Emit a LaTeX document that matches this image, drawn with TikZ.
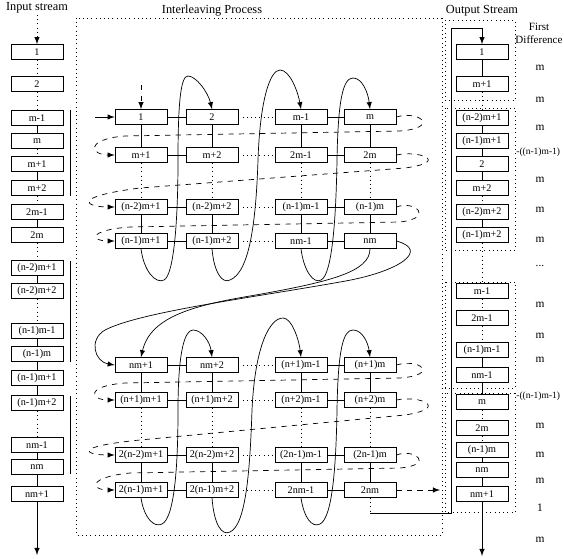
\documentclass[tikz,border=0pt]{standalone}
\usepackage{fontspec}
\setmainfont{Liberation Serif}
\usepackage{tikz}
\usetikzlibrary{arrows,positioning,calc}

\tikzset{
  cell/.style={draw, thin, minimum width=1.04cm, minimum height=0.3cm, inner sep=0pt, font=\fontsize{5.8}{7}\selectfont},
  head/.style={font=\fontsize{7}{8}\selectfont},
  diffl/.style={font=\fontsize{6.5}{7}\selectfont},
  retloop/.style={thin, dashed, ->},
  bigloop/.style={thin, ->},
}

\begin{document}
\begin{tikzpicture}[x=0.02cm, y=-0.02cm, >=latex]
    \useasboundingbox (0,0) rectangle (564,558);

    % headers
    \node[head] (hin) at (37,8) {Input stream};
    \node[head] (hmid) at (212,11) {Interleaving Process};
    \node[head] (hout) at (482,11) {Output Stream};
    \node[head, font=\fontsize{6.3}{7.5}\selectfont, align=center] (hdiff) at (539,33) {First\\Difference};
    \draw[dotted] (76,18) rectangle (442,535);

    % input stream
    \node[cell] (in1) at (37,52) {1};
    \node[cell] (in2) at (37,84) {2};
    \node[cell] (in3) at (37,118) {m-1};
    \node[cell] (in4) at (37,141) {m};
    \node[cell] (in5) at (37,164) {m+1};
    \node[cell] (in6) at (37,188) {m+2};
    \node[cell] (in7) at (37,212) {2m-1};
    \node[cell] (in8) at (37,235) {2m};
    \node[cell] (in9) at (37,268) {(n-2)m+1};
    \node[cell] (in10) at (37,291) {(n-2)m+2};
    \node[cell] (in11) at (37,331) {(n-1)m-1};
    \node[cell] (in12) at (37,354) {(n-1)m};
    \node[cell] (in13) at (37,378) {(n-1)m+1};
    \node[cell] (in14) at (37,403) {(n-1)m+2};
    \node[cell] (in15) at (37,445) {nm-1};
    \node[cell] (in16) at (37,467) {nm};
    \node[cell] (in17) at (37,494) {nm+1};
    \coordinate (inTop) at (37,15);
    \coordinate (inEnd) at (37,555);
    \draw[dotted, ->] (inTop) -- (in1);
    \draw[dotted] (in1) -- (in2);
    \draw[dotted] (in2) -- (in3);
    \draw (in3) -- (in4);
    \draw[dotted] (in4) -- (in5);
    \draw (in5) -- (in6);
    \draw[dotted] (in6) -- (in7);
    \draw (in7) -- (in8);
    \draw[dotted] (in8) -- (in9);
    \draw (in9) -- (in10);
    \draw[dotted] (in10) -- (in11);
    \draw (in11) -- (in12);
    \draw (in12) -- (in13);
    \draw (in13) -- (in14);
    \draw[dotted] (in14) -- (in15);
    \draw (in15) -- (in16);
    \draw (in16) -- (in17);
    \draw[->] (in17) -- (inEnd);
    \draw (70,110) -- (70,196);
    \draw (70,261) -- (70,362);
    \draw (70,396) -- (70,474);

    % interleaving process, first block
    \node[cell] (g11) at (141,117) {1};
    \node[cell] (g12) at (212,117) {2};
    \node[cell] (g13) at (301,117) {m-1};
    \node[cell] (g14) at (370,117) {m};
    \node[cell] (g21) at (141,155) {m+1};
    \node[cell] (g22) at (212,155) {m+2};
    \node[cell] (g23) at (301,155) {2m-1};
    \node[cell] (g24) at (370,155) {2m};
    \node[cell] (g31) at (141,207) {(n-2)m+1};
    \node[cell] (g32) at (212,207) {(n-2)m+2};
    \node[cell] (g33) at (301,207) {(n-1)m-1};
    \node[cell] (g34) at (370,207) {(n-1)m};
    \node[cell] (g41) at (141,241) {(n-1)m+1};
    \node[cell] (g42) at (212,241) {(n-1)m+2};
    \node[cell] (g43) at (301,241) {nm-1};
    \node[cell] (g44) at (370,241) {nm};

    % interleaving process, second block
    \node[cell] (h11) at (141,365) {nm+1};
    \node[cell] (h12) at (212,365) {nm+2};
    \node[cell] (h13) at (301,365) {(n+1)m-1};
    \node[cell] (h14) at (370,365) {(n+1)m};
    \node[cell] (h21) at (141,400) {(n+1)m+1};
    \node[cell] (h22) at (212,400) {(n+1)m+2};
    \node[cell] (h23) at (301,400) {(n+2)m-1};
    \node[cell] (h24) at (370,400) {(n+2)m};
    \node[cell] (h31) at (141,455) {2(n-2)m+1};
    \node[cell] (h32) at (212,455) {2(n-2)m+2};
    \node[cell] (h33) at (301,455) {(2n-1)m-1};
    \node[cell] (h34) at (370,455) {(2n-1)m};
    \node[cell] (h41) at (141,490) {2(n-1)m+1};
    \node[cell] (h42) at (212,490) {2(n-1)m+2};
    \node[cell] (h43) at (301,490) {2nm-1};
    \node[cell] (h44) at (370,490) {2nm};

    \foreach \gr in {g,h} {
        \foreach \c in {1,...,4} {
            \draw (\gr1\c) -- (\gr2\c);
            \draw[dotted] (\gr2\c) -- (\gr3\c);
            \draw (\gr3\c) -- (\gr4\c);
        }
        \foreach \r in {1,...,4} {
            \draw (\gr\r1) -- (\gr\r2);
            \draw[dotted] (\gr\r2) -- (\gr\r3);
            \draw (\gr\r3) -- (\gr\r4);
        }
    }

    % feeding the first block
    \coordinate (feedT) at (141,85);
    \coordinate (feedL) at (95,117);
    \draw[dashed, ->] (feedT) -- (g11);
    \draw[->] (feedL) -- (g11);

    % column to column loops
    \draw[bigloop] (g41.south) .. controls (144,272) and (156,284) .. (164,280) .. controls (174,275) and (178,220) .. (178,160) .. controls (178,100) and (181,76) .. (188,76) .. controls (196,76) and (208,92) .. (g12.north);
    \draw[bigloop] (g42.south) .. controls (214,272) and (222,284) .. (230,280) .. controls (250,272) and (256,220) .. (258,160) .. controls (260,100) and (270,70) .. (280,70) .. controls (290,70) and (298,92) .. (g13.north);
    \draw[bigloop] (g43.south) .. controls (304,272) and (314,284) .. (321,280) .. controls (332,275) and (336,220) .. (337,160) .. controls (338,100) and (343,78) .. (353,78) .. controls (362,78) and (368,92) .. (g14.north);
    \draw[bigloop] (h41.south) .. controls (144,518) and (154,528) .. (162,524) .. controls (174,518) and (178,470) .. (178,410) .. controls (178,350) and (185,330) .. (193,330) .. controls (202,330) and (210,342) .. (h12.north);
    \draw[bigloop] (h42.south) .. controls (214,525) and (222,536) .. (230,532) .. controls (246,525) and (250,470) .. (252,410) .. controls (255,345) and (270,318) .. (283,318) .. controls (292,318) and (299,340) .. (h13.north);
    \draw[bigloop] (h43.south) .. controls (304,518) and (312,528) .. (320,524) .. controls (332,518) and (336,470) .. (337,410) .. controls (338,350) and (343,330) .. (353,330) .. controls (362,330) and (368,342) .. (h14.north);

    % row to row loops
    \draw[retloop] (g14.east) .. controls (420,110) and (440,128) .. (400,131) -- (125,136) .. controls (85,139) and (90,155) .. (g21.west);
    \draw[retloop] (g24.east) .. controls (420,150) and (450,162) .. (405,168) -- (140,188) .. controls (70,197) and (85,207) .. (g31.west);
    \draw[retloop] (g34.east) .. controls (415,200) and (435,218) .. (400,222) -- (130,227) .. controls (88,230) and (90,241) .. (g41.west);
    \draw[retloop] (h14.east) .. controls (420,358) and (440,375) .. (400,378) -- (125,383) .. controls (85,386) and (90,400) .. (h21.west);
    \draw[retloop] (h24.east) .. controls (420,395) and (450,408) .. (405,415) -- (140,440) .. controls (70,447) and (85,455) .. (h31.west);
    \draw[retloop] (h34.east) .. controls (415,448) and (435,465) .. (400,468) -- (130,473) .. controls (88,477) and (90,490) .. (h41.west);

    % from first block to second block
    \draw[bigloop] (g44.east) .. controls (430,250) and (400,272) .. (340,282) .. controls (250,298) and (140,312) .. (105,330) .. controls (88,340) and (95,362) .. (h11.west);
    \draw[bigloop] (g44.south) .. controls (370,272) and (330,282) .. (250,296) .. controls (190,306) and (150,318) .. (h11.north);

    % output stream
    \node[cell] (out1) at (482,52) {1};
    \node[cell] (out2) at (482,84) {m+1};
    \node[cell] (out3) at (482,118) {(n-2)m+1};
    \node[cell] (out4) at (482,141) {(n-1)m+1};
    \node[cell] (out5) at (482,164) {2};
    \node[cell] (out6) at (482,188) {m+2};
    \node[cell] (out7) at (482,212) {(n-2)m+2};
    \node[cell] (out8) at (482,235) {(n-1)m+2};
    \node[cell] (out9) at (482,291) {m-1};
    \node[cell] (out10) at (482,318) {2m-1};
    \node[cell] (out11) at (482,350) {(n-1)m-1};
    \node[cell] (out12) at (482,375) {nm-1};
    \node[cell] (out13) at (482,402) {m};
    \node[cell] (out14) at (482,428) {2m};
    \node[cell] (out15) at (482,450) {(n-1)m};
    \node[cell] (out16) at (482,470) {nm};
    \node[cell] (out17) at (482,494) {nm+1};
    \coordinate (outEnd) at (482,556);
    \draw (out1) -- (out2);
    \draw[dotted] (out2) -- (out3);
    \draw (out3) -- (out4);
    \draw (out4) -- (out5);
    \draw (out5) -- (out6);
    \draw[dotted] (out6) -- (out7);
    \draw (out7) -- (out8);
    \draw[dotted] (out8) -- (out9);
    \draw[dotted] (out9) -- (out10);
    \draw[dotted] (out10) -- (out11);
    \draw (out11) -- (out12);
    \draw (out12) -- (out13);
    \draw[dotted] (out13) -- (out14);
    \draw[dotted] (out14) -- (out15);
    \draw (out15) -- (out16);
    \draw (out16) -- (out17);
    \draw[->] (out17) -- (outEnd);
    \draw[dotted] (445,20) rectangle (515,100);
    \draw[dotted] (445,108) rectangle (515,250);
    \draw[dotted] (445,282) rectangle (515,388);
    \draw[dotted] (445,393) rectangle (515,512);

    % out of the second block
    \coordinate (dashEnd) at (440,490);
    \coordinate (c1) at (370,513);
    \coordinate (c2) at (451,513);
    \coordinate (c3) at (451,28);
    \draw[dashed, ->] (h44.east) -- (dashEnd);
    \draw[dotted] (h44.south) -- (c1);
    \draw[->] (c1) -- (c2) -- (c3) -| (out1.north);

    % first difference
    \node[diffl] (fd1) at (540,68) {m};
    \node[diffl] (fd2) at (540,100) {m};
    \node[diffl] (fd3) at (540,128) {m};
    \node[diffl, font=\fontsize{5.4}{6}\selectfont, anchor=west, inner sep=0pt] (fd4) at (516,152) {-((n-1)m-1)};
    \node[diffl] (fd5) at (540,180) {m};
    \node[diffl] (fd6) at (540,210) {m};
    \node[diffl] (fd7) at (540,240) {m};
    \node[diffl] (fd8) at (540,266) {...};
    \node[diffl] (fd9) at (540,305) {m};
    \node[diffl] (fd10) at (540,336) {m};
    \node[diffl] (fd11) at (540,360) {m};
    \node[diffl, font=\fontsize{5.4}{6}\selectfont, anchor=west, inner sep=0pt] (fd12) at (516,396) {-((n-1)m-1)};
    \node[diffl] (fd13) at (540,426) {m};
    \node[diffl] (fd14) at (540,455) {m};
    \node[diffl] (fd15) at (540,481) {m};
    \node[diffl] (fd16) at (540,508) {1};
    \node[diffl] (fd17) at (540,540) {m};
\end{tikzpicture}
\end{document}
